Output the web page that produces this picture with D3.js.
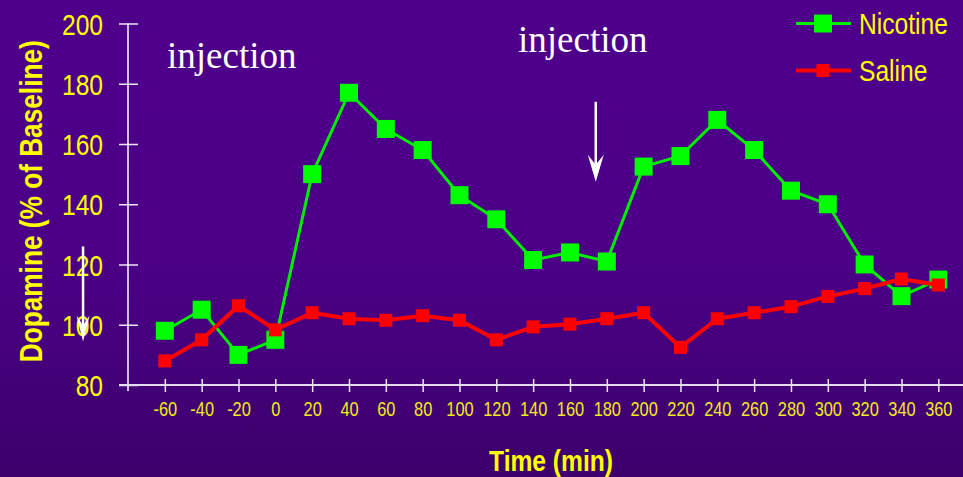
<!DOCTYPE html>
<html>
<head>
<meta charset="utf-8">
<script src="https://cdn.jsdelivr.net/npm/d3@7"></script>
<style>
  html, body { margin: 0; padding: 0; background: #4a0085; }
  svg { display: block; }
</style>
</head>
<body>
<svg id="chart" width="963" height="477"></svg>
<script>
// Sampling times (minutes relative to first injection)
const times = [-60, -40, -20, 0, 20, 40, 60, 80, 100, 120, 140, 160, 180, 200, 220, 240, 260, 280, 300, 320, 340, 360];
// Extracellular dopamine, % of baseline
const nicotine = [98, 105, 90, 95, 150, 177, 165, 158, 143, 135, 121.5, 124, 121, 152.5, 156, 168, 158, 144.5, 140, 120, 109.5, 115];
const saline   = [88, 95, 106.3, 98.3, 104, 102, 101.5, 103, 101.5, 95, 99.3, 100.2, 102, 104, 92.5, 102, 104, 106, 109.4, 112, 115.2, 113.2];
const yTicks = [80, 100, 120, 140, 160, 180, 200];
const seriesNames = ["Nicotine", "Saline"];
// Injection annotations: [time, arrow top value, arrow tip value]
const injectionArrows = [[-104.4, 126, 94.4], [174, 174, 147.5]];
const injectionLabels = [[-58.8, 185.2], [131.8, 190.6]];

const W = 963, H = 477;
const svg = d3.select("#chart");
const SANS = "'Liberation Sans', Arial, sans-serif";
const NARROW = 0.82; // horizontal squeeze for condensed lettering
const YELLOW = "#ffff00";

// background gradient
const defs = svg.append("defs");
const grad = defs.append("linearGradient").attr("id", "bg").attr("x1", 0).attr("y1", 0).attr("x2", 0).attr("y2", 1);
grad.append("stop").attr("offset", "0%").attr("stop-color", "#4e008b");
grad.append("stop").attr("offset", "55%").attr("stop-color", "#4b0086");
grad.append("stop").attr("offset", "100%").attr("stop-color", "#3d006c");
svg.append("rect").attr("width", W).attr("height", H).attr("fill", "url(#bg)");

const x = d3.scaleLinear().domain([-80, 360]).range([128, 938.3]);
const y = d3.scaleLinear().domain([80, 200]).range([385, 23.5]);

// condensed text placed at (px, py)
function narrowText(parent, px, py, str, opts) {
  const g = parent.append("g").attr("transform", `translate(${px},${py})${opts.rotate ? " rotate(-90)" : ""}`);
  return g.append("text")
    .attr("transform", `scale(${NARROW},1)`)
    .attr("text-anchor", opts.anchor || "start")
    .attr("dy", opts.dy || null)
    .attr("fill", opts.fill || YELLOW)
    .attr("font-family", SANS)
    .attr("font-weight", opts.bold ? "bold" : "normal")
    .attr("font-size", opts.size)
    .text(str);
}

// Y axis
const yAxis = svg.append("g").attr("transform", `translate(${x(-80)},0)`)
  .call(d3.axisLeft(y).tickValues(yTicks).tickSize(0));
yAxis.select(".domain").remove();
yAxis.append("line").attr("x1", 0).attr("x2", 0).attr("y1", y(200)).attr("y2", y(80) + 6)
  .attr("stroke", "#ffffff").attr("stroke-width", 1.5);
yAxis.selectAll(".tick line").attr("x1", -9).attr("x2", 10).attr("stroke", "#eee6f6").attr("stroke-width", 1.5);
yAxis.selectAll(".tick text")
  .attr("x", -25 / NARROW).attr("transform", `scale(${NARROW},1)`)
  .attr("fill", YELLOW).attr("font-family", SANS).attr("font-size", 30).attr("dy", "0.35em");

// X axis
const xAxis = svg.append("g").attr("transform", `translate(0,${y(80)})`)
  .call(d3.axisBottom(x).tickValues(times).tickSize(0).tickPadding(24).tickFormat(d => String(d)));
xAxis.select(".domain").remove();
xAxis.append("line").attr("x1", x(-80) - 9).attr("x2", W).attr("y1", 0).attr("y2", 0)
  .attr("stroke", "#e6dcf2").attr("stroke-width", 2);
xAxis.selectAll(".tick line").attr("y1", -6).attr("y2", 7).attr("stroke", "#eee6f6").attr("stroke-width", 1.5);
xAxis.selectAll(".tick text")
  .attr("transform", `scale(${NARROW},1)`)
  .attr("fill", "#f2ea20").attr("font-family", SANS).attr("font-size", 20).attr("dy", "0.35em");

// Axis titles
narrowText(svg, 42, (y(80) + y(200)) / 2 - 3, "Dopamine (% of Baseline)", { rotate: true, anchor: "middle", bold: true, size: 32 });
narrowText(svg, 551, 470.5, "Time (min)", { anchor: "middle", bold: true, size: 30 });

// Series
const series = [
  { name: seriesNames[0], values: nicotine, line: "#00ee00", fill: "#00ff00", width: 3, size: 18 },
  { name: seriesNames[1], values: saline, line: "#ff0000", fill: "#ff0000", width: 4, size: 13 }
];
const lineGen = d3.line().x(d => x(d[0])).y(d => y(d[1]));
series.forEach(s => {
  const pts = times.map((t, i) => [t, s.values[i]]);
  const g = svg.append("g");
  g.append("path").datum(pts).attr("d", lineGen)
    .attr("fill", "none").attr("stroke", s.line).attr("stroke-width", s.width).attr("stroke-linejoin", "round");
  g.selectAll("rect").data(pts).join("rect")
    .attr("x", d => x(d[0]) - s.size / 2).attr("y", d => y(d[1]) - s.size / 2)
    .attr("width", s.size).attr("height", s.size).attr("fill", s.fill);
});

// Legend
const legend = svg.append("g");
series.forEach((s, i) => {
  const ly = 23.5 + i * 47;
  legend.append("line").attr("x1", 796).attr("x2", 851).attr("y1", ly).attr("y2", ly)
    .attr("stroke", s.line).attr("stroke-width", s.width);
  legend.append("rect").attr("x", 823 - s.size / 2).attr("y", ly - s.size / 2)
    .attr("width", s.size).attr("height", s.size).attr("fill", s.fill);
  narrowText(legend, 859, ly, s.name, { dy: "0.35em", size: 30 });
});

// Injection labels
injectionLabels.forEach(([t, v]) => {
  svg.append("text").attr("x", x(t)).attr("y", y(v))
    .attr("fill", "#ffffff").attr("font-family", "'Liberation Serif', 'Times New Roman', serif").attr("font-size", 37)
    .text("injection");
});

// Injection arrows
injectionArrows.forEach(([t, v0, v1], i) => {
  const ax = x(t), top = y(v0), tip = y(v1);
  const headLen = i === 0 ? 26 : 27, half = i === 0 ? 6.5 : 8, notch = i === 0 ? 16 : 17;
  svg.append("line").attr("x1", ax).attr("x2", ax).attr("y1", top).attr("y2", tip - notch)
    .attr("stroke", "#ffffff").attr("stroke-width", 2.5);
  svg.append("path")
    .attr("d", `M${ax},${tip} L${ax - half},${tip - headLen} L${ax},${tip - notch} L${ax + half},${tip - headLen} Z`)
    .attr("fill", "#ffffff");
});
</script>
</body>
</html>
